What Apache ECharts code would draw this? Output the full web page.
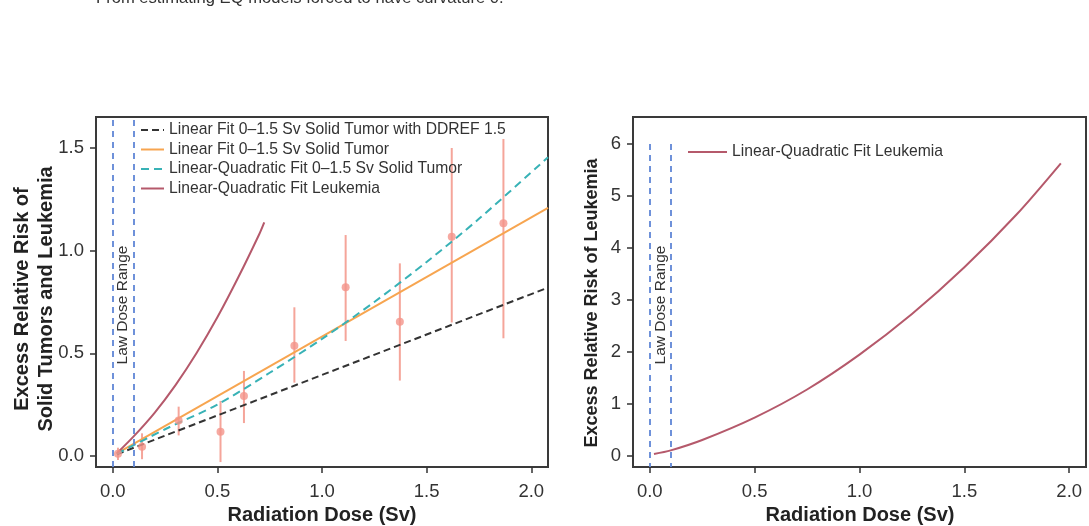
<!DOCTYPE html>
<html>
<head>
<meta charset="utf-8">
<script src="https://cdn.jsdelivr.net/npm/echarts@6/dist/echarts.min.js"></script>
<style>
  html, body { margin: 0; padding: 0; background: #fff; }
  #chart { width: 1089px; height: 526px; }
</style>
</head>
<body>
<div id="chart"></div>
<script>
// axis ticks
var doseTicks = [0, 0.5, 1, 1.5, 2];
var solidTicks = [0, 0.5, 1, 1.5];
var leukTicks = [0, 1, 2, 3, 4, 5, 6];
var lowDoseRange = [0, 0.1];

// solid tumor observations (dose, ERR, error bar)
var pointDose = [0.025, 0.14, 0.315, 0.515, 0.627, 0.868, 1.113, 1.372, 1.62, 1.867];
var pointErr  = [0.01, 0.045, 0.172, 0.118, 0.292, 0.537, 0.822, 0.654, 1.068, 1.133];
var pointLow  = [-0.02, -0.016, 0.10, -0.03, 0.16, 0.357, 0.56, 0.367, 0.65, 0.573];
var pointHigh = [0.04, 0.11, 0.24, 0.268, 0.414, 0.724, 1.076, 0.938, 1.50, 1.544];

// fitted lines, left panel
var linearDose = [0.02, 2.08];
var linearDdref = [0.008, 0.82];
var linearSolid = [0.012, 1.208];
var lqSolidDose = [0.02, 0.25, 0.5, 0.75, 1.0, 1.25, 1.5, 1.75, 2.08];
var lqSolid     = [0.01, 0.13, 0.25, 0.405, 0.57, 0.75, 0.945, 1.155, 1.455];
var leukLeftDose = [0.02, 0.1, 0.2, 0.3, 0.4, 0.5, 0.6, 0.7, 0.724];
var leukLeft     = [0.013, 0.095, 0.21, 0.345, 0.5, 0.675, 0.87, 1.08, 1.138];

// leukemia, right panel
var leukRightDose = [0.02, 0.1, 0.25, 0.5, 0.75, 1.0, 1.25, 1.5, 1.75, 1.96];
var leukRight     = [0.04, 0.11, 0.31, 0.74, 1.28, 1.95, 2.73, 3.63, 4.65, 5.63];

var FONT = 'Liberation Sans, Arial, sans-serif';
var NAME_DDREF = 'Linear Fit 0–1.5 Sv Solid Tumor with DDREF 1.5';
var NAME_LIN = 'Linear Fit 0–1.5 Sv Solid Tumor';
var NAME_LQ = 'Linear-Quadratic Fit 0–1.5 Sv Solid Tumor';
var NAME_LEUK = 'Linear-Quadratic Fit Leukemia';

function zip(xs, ys) {
    return xs.map(function (x, i) { return [x, ys[i]]; });
}

function doseAxis(gi) {
    return {
        type: 'value', gridIndex: gi, min: -0.08, max: 2.08,
        axisLine: {show: false, onZero: false},
        splitLine: {show: false},
        axisTick: {show: true, customValues: doseTicks, length: 6, lineStyle: {color: '#333', width: 1.5}},
        axisLabel: {
            customValues: doseTicks, margin: 15, fontSize: 18.5, color: '#333', fontFamily: FONT,
            formatter: function (v) { return v.toFixed(1); }
        }
    };
}

function riskAxis(gi, min, max, ticks, digits) {
    return {
        type: 'value', gridIndex: gi, min: min, max: max,
        axisLine: {show: false, onZero: false},
        splitLine: {show: false},
        axisTick: {show: true, customValues: ticks, length: 6, lineStyle: {color: '#333', width: 1.5}},
        axisLabel: {
            customValues: ticks, margin: 12, fontSize: 18.5, color: '#333', fontFamily: FONT,
            formatter: function (v) { return v.toFixed(digits); }
        }
    };
}

var boundStyle = {color: '#5f86d6', type: [6, 5], width: 1.8};
var legendText = {fontSize: 15.7, color: '#333', fontFamily: FONT};
var noSymbol = {color: 'transparent', borderWidth: 0, opacity: 0};

var option = {
    animation: false,
    textStyle: {fontFamily: FONT},
    grid: [
        {left: 96, top: 117, width: 452, height: 350, show: true, borderColor: '#3a3a3a', borderWidth: 2, outerBoundsMode: 'none'},
        {left: 633, top: 117, width: 453, height: 350, show: true, borderColor: '#3a3a3a', borderWidth: 2, outerBoundsMode: 'none'}
    ],
    xAxis: [doseAxis(0), doseAxis(1)],
    yAxis: [
        riskAxis(0, -0.054, 1.651, solidTicks, 1),
        riskAxis(1, -0.21, 6.52, leukTicks, 0)
    ],
    legend: [
        {
            orient: 'vertical', left: 140, top: 122, padding: 0,
            itemWidth: 23, itemHeight: 14, itemGap: 3.5,
            itemStyle: noSymbol,
            data: [NAME_DDREF, NAME_LIN, NAME_LQ, NAME_LEUK],
            textStyle: legendText
        },
        {
            orient: 'vertical', left: 687, top: 144, padding: 0,
            itemWidth: 39, itemHeight: 14,
            itemStyle: noSymbol,
            data: [NAME_LEUK],
            textStyle: legendText
        }
    ],
    series: [
        {
            type: 'custom', name: 'err', xAxisIndex: 0, yAxisIndex: 0,
            data: pointDose.map(function (d, i) { return [d, pointLow[i], pointHigh[i]]; }),
            encode: {x: 0, y: [1, 2]},
            renderItem: function (params, api) {
                var p1 = api.coord([api.value(0), api.value(1)]);
                var p2 = api.coord([api.value(0), api.value(2)]);
                return {
                    type: 'line',
                    shape: {x1: p1[0], y1: p1[1], x2: p2[0], y2: p2[1]},
                    style: {stroke: '#f5a59a', lineWidth: 2}
                };
            },
            z: 1
        },
        {
            type: 'line', name: 'bounds', xAxisIndex: 0, yAxisIndex: 0,
            data: [], symbol: 'none',
            markLine: {
                silent: true, symbol: 'none', label: {show: false},
                lineStyle: boundStyle,
                data: lowDoseRange.map(function (d) { return {xAxis: d}; })
            }
        },
        {
            type: 'line', name: NAME_DDREF, xAxisIndex: 0, yAxisIndex: 0,
            data: zip(linearDose, linearDdref), symbol: 'none',
            lineStyle: {color: '#333', width: 2, type: [7, 4]}, itemStyle: {color: '#333'}, z: 3
        },
        {
            type: 'line', name: NAME_LIN, xAxisIndex: 0, yAxisIndex: 0,
            data: zip(linearDose, linearSolid), symbol: 'none',
            lineStyle: {color: '#f7a550', width: 2}, itemStyle: {color: '#f7a550'}, z: 3
        },
        {
            type: 'line', name: NAME_LQ, xAxisIndex: 0, yAxisIndex: 0,
            data: zip(lqSolidDose, lqSolid), symbol: 'none', smooth: 0.3,
            lineStyle: {color: '#38b2b6', width: 2, type: [8, 5]}, itemStyle: {color: '#38b2b6'}, z: 3
        },
        {
            type: 'line', name: NAME_LEUK, xAxisIndex: 0, yAxisIndex: 0,
            data: zip(leukLeftDose, leukLeft), symbol: 'none', smooth: 0.3,
            lineStyle: {color: '#b5596b', width: 2}, itemStyle: {color: '#b5596b'}, z: 3
        },
        {
            type: 'scatter', name: 'obs', xAxisIndex: 0, yAxisIndex: 0,
            data: zip(pointDose, pointErr), symbolSize: 8,
            itemStyle: {color: '#f4948a'}, z: 4
        },
        {
            type: 'line', name: NAME_LEUK, xAxisIndex: 1, yAxisIndex: 1,
            data: zip(leukRightDose, leukRight), symbol: 'none', smooth: 0.3,
            lineStyle: {color: '#b5596b', width: 2}, itemStyle: {color: '#b5596b'}, z: 3,
            markLine: {
                silent: true, symbol: 'none', label: {show: false},
                lineStyle: boundStyle,
                data: lowDoseRange.map(function (d) { return [{coord: [d, 6]}, {coord: [d, -0.21]}]; })
            }
        }
    ],
    graphic: [
        {type: 'text', x: 96, y: -2, style: {text: 'From estimating EQ models forced to have curvature 0.', fontSize: 16.6, fontFamily: FONT, fill: '#333', verticalAlign: 'middle'}},
        {type: 'text', x: 34, y: 299, rotation: Math.PI / 2, style: {text: 'Excess Relative Risk of\nSolid Tumors and Leukemia', fontSize: 20, fontWeight: 'bold', fontFamily: FONT, fill: '#222', align: 'center', verticalAlign: 'middle', lineHeight: 24}},
        {type: 'text', x: 322, y: 515, style: {text: 'Radiation Dose (Sv)', fontSize: 20, fontWeight: 'bold', fontFamily: FONT, fill: '#222', align: 'center', verticalAlign: 'middle'}},
        {type: 'text', x: 592, y: 303, rotation: Math.PI / 2, style: {text: 'Excess Relative Risk of Leukemia', fontSize: 18, fontWeight: 'bold', fontFamily: FONT, fill: '#222', align: 'center', verticalAlign: 'middle'}},
        {type: 'text', x: 860, y: 515, style: {text: 'Radiation Dose (Sv)', fontSize: 20, fontWeight: 'bold', fontFamily: FONT, fill: '#222', align: 'center', verticalAlign: 'middle'}},
        {type: 'text', x: 123, y: 305, rotation: Math.PI / 2, style: {text: 'Law Dose Range', fontSize: 15.5, fontFamily: FONT, fill: '#333', align: 'center', verticalAlign: 'middle'}},
        {type: 'text', x: 661, y: 305, rotation: Math.PI / 2, style: {text: 'Law Dose Range', fontSize: 15.5, fontFamily: FONT, fill: '#333', align: 'center', verticalAlign: 'middle'}}
    ]
};

var chart = echarts.init(document.getElementById('chart'), null, {renderer: 'canvas'});
chart.setOption(option);
</script>
</body>
</html>
